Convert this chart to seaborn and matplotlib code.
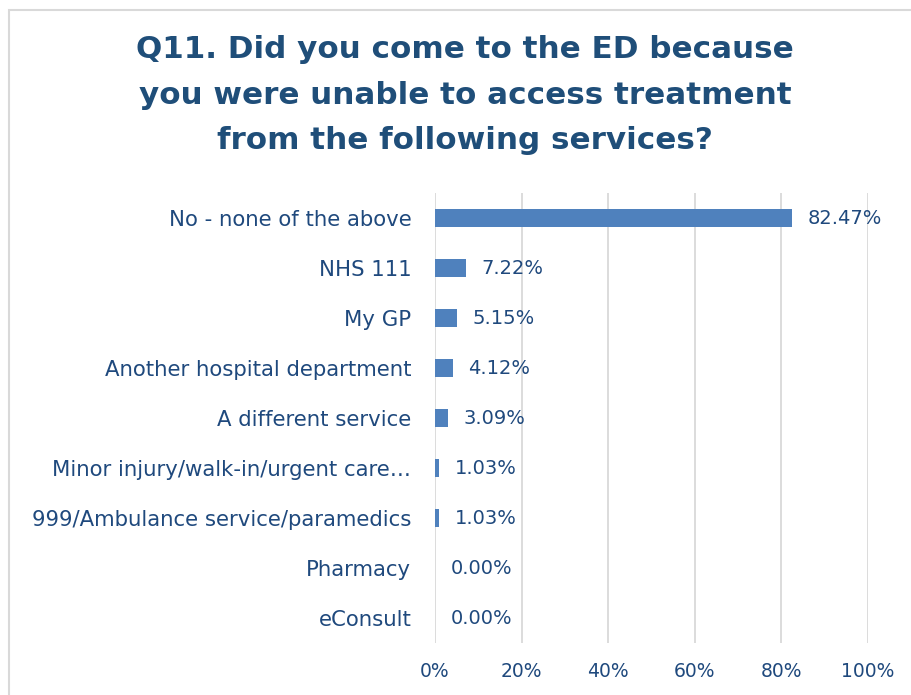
import matplotlib
matplotlib.use("Agg")
import matplotlib.pyplot as plt
from matplotlib.patches import Rectangle
from matplotlib.ticker import FuncFormatter
import seaborn as sns
import pandas as pd

# Survey responses (share of respondents, %)
categories = [
    "No - none of the above",
    "NHS 111",
    "My GP",
    "Another hospital department",
    "A different service",
    "Minor injury/walk-in/urgent care…",
    "999/Ambulance service/paramedics",
    "Pharmacy",
    "eConsult",
]
values = [82.47, 7.22, 5.15, 4.12, 3.09, 1.03, 1.03, 0.00, 0.00]
x_ticks = [0, 20, 40, 60, 80, 100]

title = ("Q11. Did you come to the ED because\n"
         "you were unable to access treatment\n"
         "from the following services?")

bar_color = "#4F81BD"
text_color = "#1F497D"
title_color = "#1F4E79"
grid_color = "#D9D9D9"

sns.set_theme(style="white")
plt.rcParams["font.family"] = ["DejaVu Sans"]

df = pd.DataFrame({"service": categories, "pct": values})

W, H = 911, 695
fig = plt.figure(figsize=(W / 100, H / 100), dpi=100)
ax = fig.add_axes([435 / W, 1 - 643 / H, (868 - 435) / W, (643 - 193) / H])

sns.barplot(data=df, x="pct", y="service", color=bar_color, width=0.35,
            saturation=1, ax=ax, edgecolor="none")

ax.set_xlim(0, 100)
ax.set_xticks(x_ticks)
ax.xaxis.set_major_formatter(FuncFormatter(lambda v, _: f"{v:.0f}%"))
ax.set_xlabel("")
ax.set_ylabel("")
ax.grid(axis="x", color=grid_color, linewidth=1.3)
ax.set_axisbelow(True)
for s in ax.spines.values():
    s.set_visible(False)
ax.tick_params(axis="x", colors=text_color, labelsize=13.5, length=0, pad=14)
ax.tick_params(axis="y", colors=text_color, labelsize=15.3, length=0, pad=17)

for i, v in enumerate(values):
    ax.annotate(f"{v:.2f}%", xy=(v, i), xytext=(11, 0), textcoords="offset points",
                va="center", ha="left", color=text_color, fontsize=14)

fig.text(465 / W, 1 - 35 / H, title, ha="center", va="top", fontsize=22.3,
         fontweight="bold", color=title_color, linespacing=1.72)

# chart frame
fig.patches.append(Rectangle((9 / W, -0.1), 1.2, 1 - 10 / H + 0.1,
                             transform=fig.transFigure, fill=False,
                             edgecolor=grid_color, linewidth=1.5))

fig.savefig("out.png", dpi=100)
